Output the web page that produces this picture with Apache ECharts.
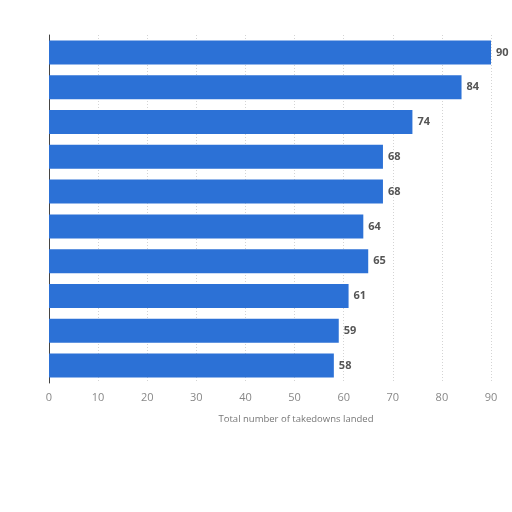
<!DOCTYPE html>
<html>
<head>
<meta charset="utf-8">
<script src="https://cdn.jsdelivr.net/npm/echarts@6/dist/echarts.min.js"></script>
<style>
  html, body { margin: 0; padding: 0; background: #fff; }
  #main { width: 512px; height: 512px; }
</style>
</head>
<body>
<div id="main"></div>
<script>
// categories (not labelled in the picture), top to bottom
var categories = ['1', '2', '3', '4', '5', '6', '7', '8', '9', '10'];
// takedowns landed, top to bottom
var takedowns = [90, 84, 74, 68, 68, 64, 65, 61, 59, 58];
var xTicks = [0, 10, 20, 30, 40, 50, 60, 70, 80, 90];

var myChart = echarts.init(document.getElementById('main'));

option = {
    animation: false,
    backgroundColor: '#fff',
    grid: {
        left: 49,
        right: 21,
        top: 35,
        bottom: 129
    },
    xAxis: {
        type: 'value',
        min: xTicks[0],
        max: xTicks[xTicks.length - 1],
        interval: 10,
        name: 'Total number of takedowns landed',
        nameLocation: 'middle',
        nameGap: 31,
        nameTextStyle: {
            color: '#777',
            fontSize: 9.5,
            fontFamily: 'Open Sans',
            padding: [0, 0, 0, 52]
        },
        axisLine: { show: false },
        axisTick: { show: false },
        axisLabel: {
            color: '#888',
            fontSize: 11,
            fontFamily: 'Open Sans',
            margin: 9
        },
        splitLine: {
            show: true,
            lineStyle: { color: '#d4d4d4', type: [1, 2] }
        }
    },
    yAxis: {
        type: 'category',
        inverse: true,
        data: categories,
        axisLine: { show: true, lineStyle: { color: '#444', width: 1 } },
        axisTick: { show: false },
        axisLabel: { show: false }
    },
    series: [
        {
            name: 'Takedowns',
            type: 'bar',
            data: takedowns,
            barCategoryGap: '31%',
            itemStyle: { color: '#2c71d6' },
            label: {
                show: true,
                position: 'right',
                distance: 5,
                color: '#555',
                fontSize: 11,
                fontWeight: 'bold',
                fontFamily: 'Open Sans'
            }
        }
    ]
};
myChart.setOption(option);
</script>
</body>
</html>
